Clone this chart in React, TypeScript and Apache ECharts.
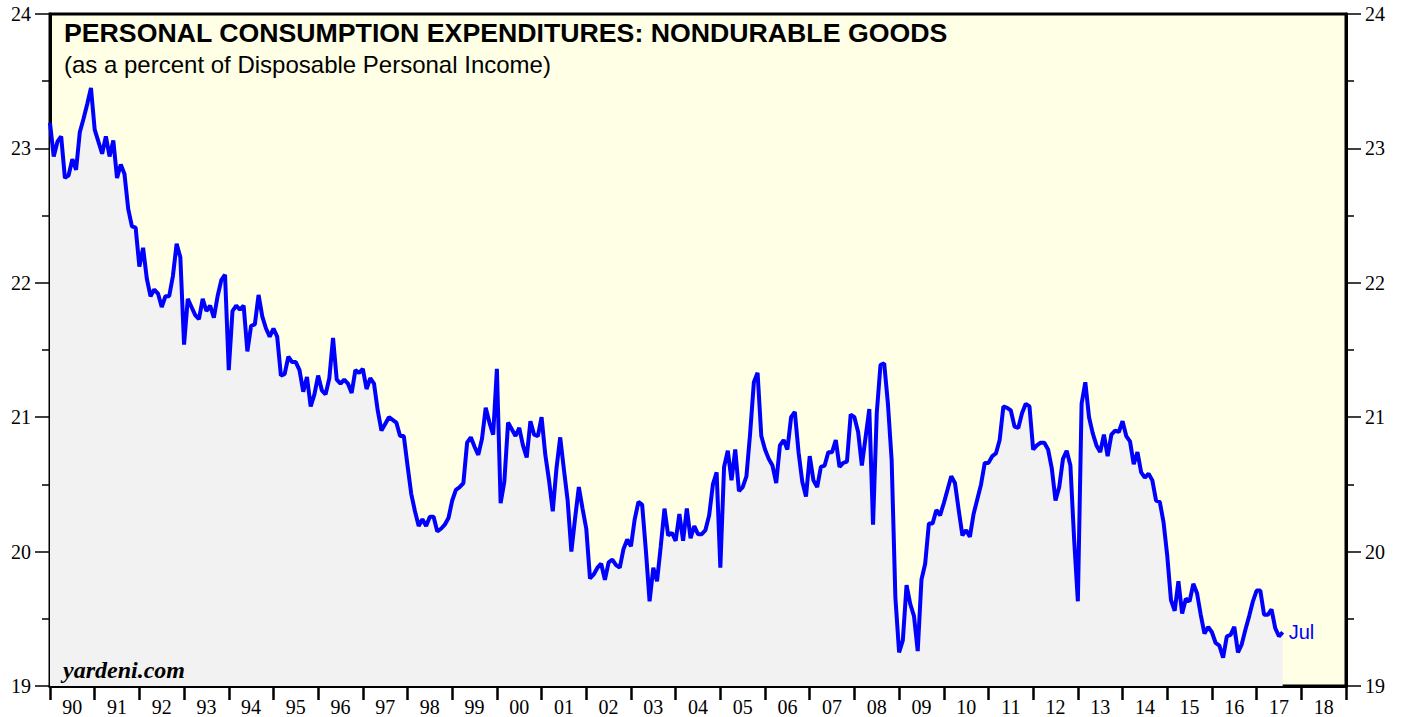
import React, { useEffect, useRef } from "react";
import * as echarts from "echarts";

// Year labels on the x axis (1990 .. 2018)
const yearLabels = [
  "90", "91", "92", "93", "94", "95", "96", "97", "98", "99",
  "00", "01", "02", "03", "04", "05", "06", "07", "08", "09",
  "10", "11", "12", "13", "14", "15", "16", "17", "18",
];

// Monthly values (% of disposable personal income), starting Jan 1990
const values1990s = [
  23.19, 22.94, 23.05, 23.09, 22.78, 22.80, 22.92, 22.84, 23.12, 23.22, 23.33, 23.45,
  23.14, 23.05, 22.96, 23.09, 22.94, 23.06, 22.78, 22.88, 22.81, 22.55, 22.42, 22.41,
  22.12, 22.26, 22.03, 21.90, 21.95, 21.92, 21.82, 21.90, 21.90, 22.05, 22.29, 22.19,
  21.54, 21.88, 21.82, 21.76, 21.73, 21.88, 21.79, 21.83, 21.74, 21.90, 22.02, 22.06,
  21.35, 21.79, 21.83, 21.80, 21.83, 21.49, 21.68, 21.69, 21.91, 21.75, 21.66, 21.60,
  21.66, 21.60, 21.31, 21.32, 21.45, 21.41, 21.41, 21.35, 21.19, 21.30, 21.08, 21.17,
  21.31, 21.20, 21.17, 21.29, 21.59, 21.28, 21.25, 21.28, 21.25, 21.18, 21.35, 21.33,
  21.36, 21.21, 21.29, 21.25, 21.05, 20.90, 20.95, 21.00, 20.98, 20.96, 20.86, 20.86,
  20.64, 20.43, 20.30, 20.19, 20.24, 20.19, 20.26, 20.26, 20.15, 20.17, 20.20, 20.25,
  20.38, 20.46, 20.48, 20.51, 20.81, 20.85, 20.78, 20.72, 20.84, 21.07, 20.96, 20.87,
];
const values2000s = [
  21.36, 20.36, 20.52, 20.96, 20.91, 20.86, 20.92, 20.79, 20.70, 20.97, 20.87, 20.86,
  21.00, 20.72, 20.53, 20.30, 20.62, 20.85, 20.61, 20.38, 20.00, 20.25, 20.48, 20.32,
  20.17, 19.80, 19.83, 19.88, 19.91, 19.79, 19.92, 19.94, 19.90, 19.88, 20.02, 20.09,
  20.04, 20.24, 20.37, 20.35, 20.01, 19.63, 19.88, 19.78, 20.04, 20.32, 20.12, 20.14,
  20.08, 20.28, 20.08, 20.32, 20.10, 20.19, 20.13, 20.13, 20.16, 20.27, 20.50, 20.59,
  19.88, 20.63, 20.75, 20.53, 20.76, 20.45, 20.48, 20.56, 20.88, 21.26, 21.33, 20.86,
  20.76, 20.69, 20.64, 20.51, 20.79, 20.83, 20.76, 21.00, 21.04, 20.74, 20.52, 20.41,
  20.71, 20.53, 20.48, 20.63, 20.64, 20.74, 20.74, 20.83, 20.63, 20.66, 20.67, 21.02,
  21.00, 20.89, 20.64, 20.85, 21.06, 20.20, 21.03, 21.39, 21.40, 21.10, 20.68, 19.66,
  19.25, 19.34, 19.75, 19.61, 19.52, 19.26, 19.79, 19.91, 20.21, 20.21, 20.31, 20.27,
];
const values2010s = [
  20.36, 20.46, 20.56, 20.51, 20.31, 20.12, 20.16, 20.11, 20.28, 20.39, 20.50, 20.66,
  20.66, 20.71, 20.73, 20.83, 21.08, 21.07, 21.05, 20.93, 20.92, 21.03, 21.10, 21.08,
  20.76, 20.79, 20.81, 20.81, 20.76, 20.62, 20.38, 20.48, 20.69, 20.75, 20.64, 20.09,
  19.63, 21.10, 21.26, 21.00, 20.88, 20.79, 20.74, 20.87, 20.71, 20.87, 20.90, 20.89,
  20.97, 20.86, 20.82, 20.65, 20.74, 20.59, 20.55, 20.58, 20.53, 20.38, 20.37, 20.22,
  19.97, 19.64, 19.56, 19.78, 19.54, 19.65, 19.63, 19.76, 19.69, 19.53, 19.39, 19.44,
  19.40, 19.32, 19.30, 19.21, 19.37, 19.38, 19.44, 19.25, 19.31, 19.42, 19.52, 19.63,
  19.71, 19.71, 19.53, 19.53, 19.57, 19.43, 19.37, 19.40,
];

const yMin = 19;
const yMax = 24;
const lastLabel = "Jul";

const serif = "'Liberation Serif', 'DejaVu Serif', serif";
const sans = "'Liberation Sans', Arial, sans-serif";

export default function App() {
  const ref = useRef<HTMLDivElement>(null);

  useEffect(() => {
    if (!ref.current) return;
    const chart = echarts.init(ref.current, undefined, { renderer: "svg" });
    const all = [...values1990s, ...values2000s, ...values2010s];
    const seriesData = all.map((v, i) => [i, v]);
    const totalMonths = yearLabels.length * 12;

    const yAxisCommon = (pos: "left" | "right") => ({
      type: "value",
      position: pos,
      min: yMin,
      max: yMax,
      interval: 1,
      splitLine: { show: false },
      axisLine: { show: true, lineStyle: { color: "#000", width: 3 } },
      axisTick: { show: true, length: 15, lineStyle: { color: "#000", width: 1.5 } },
      minorTick: { show: true, splitNumber: 2, length: 8, lineStyle: { color: "#000", width: 1.5 } },
      axisLabel: {
        margin: 19,
        color: "#000",
        fontSize: 20,
        fontFamily: serif,
      },
    });

    chart.setOption({
      animation: false,
      backgroundColor: "#fff",
      grid: {
        left: 50,
        right: 59,
        top: 14,
        bottom: 31,
        show: true,
        backgroundColor: "#FFFFE5",
        borderColor: "#000",
        borderWidth: 3,
      },
      xAxis: [
        {
          type: "value",
          min: 0,
          max: totalMonths,
          show: false,
        },
        {
          type: "category",
          data: yearLabels,
          boundaryGap: true,
          position: "bottom",
          axisLine: { show: true, lineStyle: { color: "#000", width: 3 } },
          axisTick: { show: true, length: 14, lineStyle: { color: "#000", width: 2.5 } },
          axisLabel: {
            margin: 11,
            color: "#000",
            fontSize: 20,
            fontFamily: serif,
            interval: 0,
          },
          splitLine: { show: false },
        },
      ],
      yAxis: [yAxisCommon("left"), yAxisCommon("right")],
      series: [
        {
          type: "line",
          xAxisIndex: 0,
          yAxisIndex: 0,
          data: seriesData,
          showSymbol: false,
          symbol: "none",
          lineStyle: { color: "#0000FF", width: 4 },
          itemStyle: { color: "#0000FF" },
          areaStyle: { color: "#F2F2F2", opacity: 1, origin: "start" },
          endLabel: {
            show: true,
            formatter: lastLabel,
            color: "#0000FF",
            fontSize: 20,
            fontFamily: sans,
            distance: 6,
          },
          z: 3,
        },
      ],
      graphic: [
        {
          type: "text",
          left: 64,
          top: 19,
          z: 10,
          style: {
            text: "PERSONAL CONSUMPTION EXPENDITURES: NONDURABLE GOODS",
            fill: "#000",
            font: `bold 26.7px ${sans}`,
          },
        },
        {
          type: "text",
          left: 64,
          top: 52,
          z: 10,
          style: {
            text: "(as a percent of Disposable Personal Income)",
            fill: "#000",
            font: `24px ${sans}`,
          },
        },
        {
          type: "text",
          left: 63,
          top: 658,
          z: 10,
          style: {
            text: "yardeni.com",
            fill: "#000",
            font: `italic bold 24px ${serif}`,
          },
        },
      ],
    });

    return () => chart.dispose();
  }, []);

  return (
    <div
      ref={ref}
      style={{ position: "fixed", left: 0, top: 0, width: 1405, height: 717 }}
    />
  );
}
